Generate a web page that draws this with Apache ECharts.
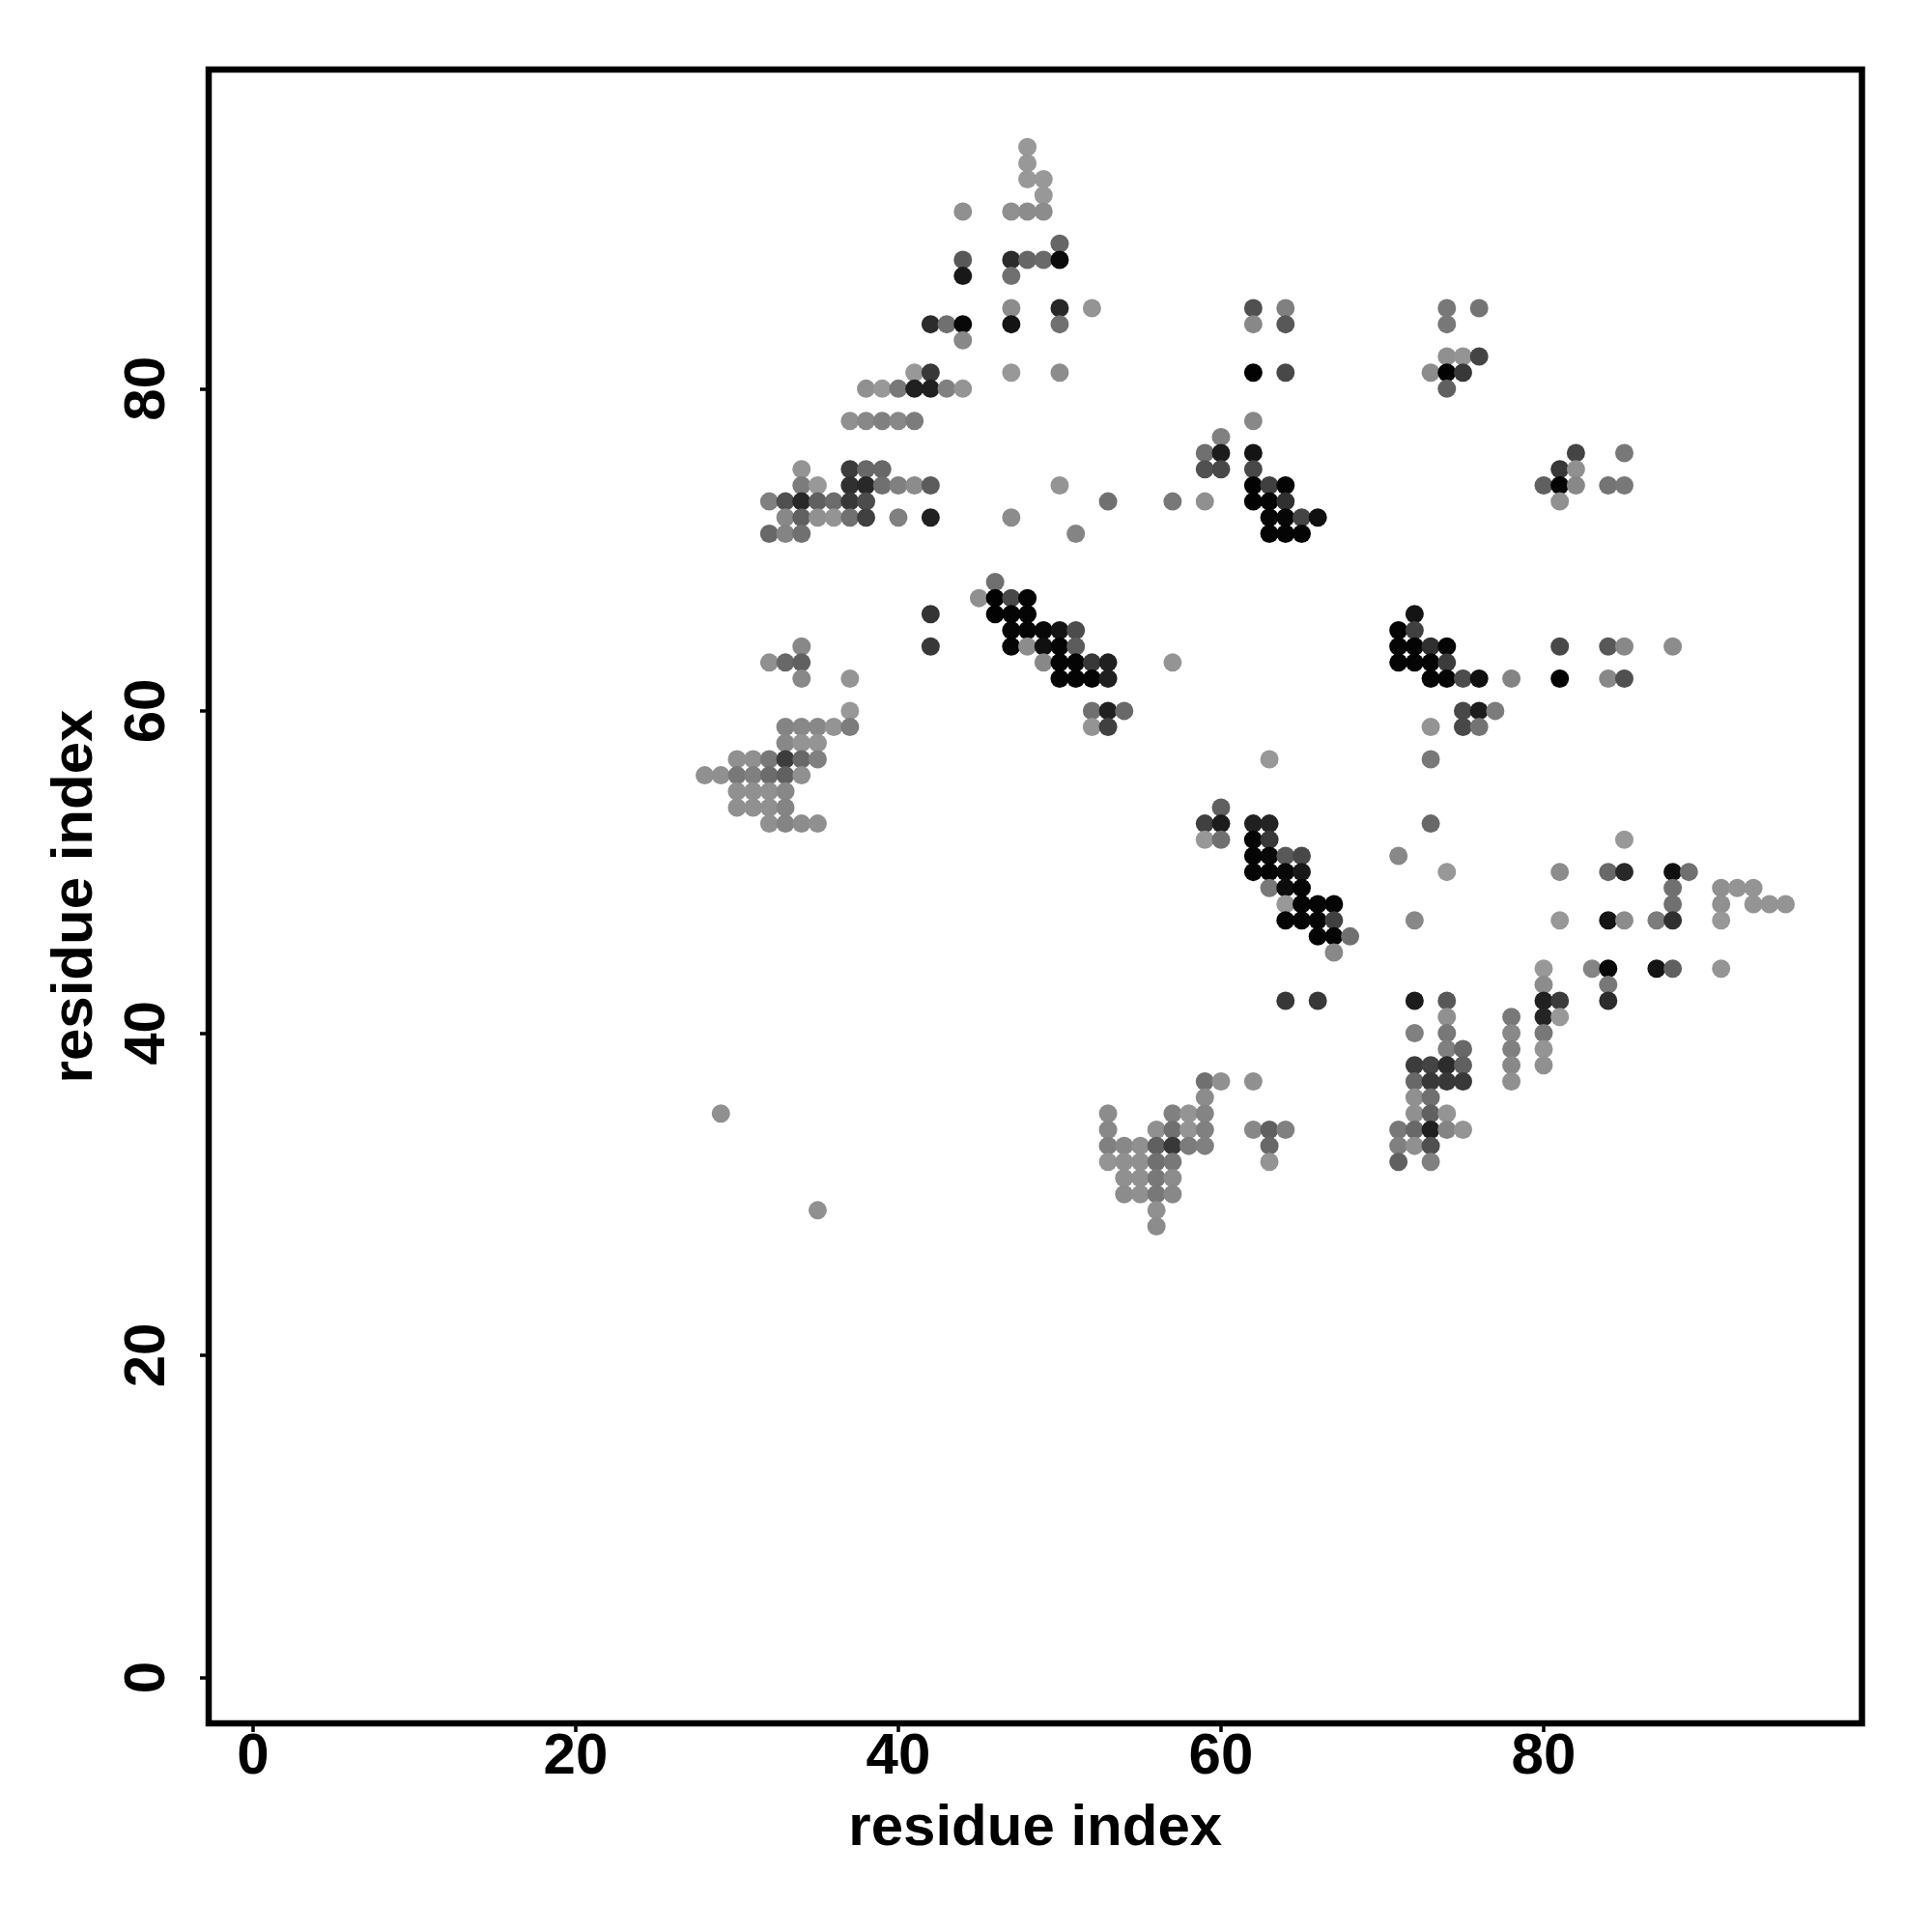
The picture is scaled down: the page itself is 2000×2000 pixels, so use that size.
<!DOCTYPE html>
<html><head><meta charset="utf-8">
<style>html,body{margin:0;padding:0;background:#fff}#c{width:2000px;height:2000px}</style>
<script src="https://cdn.jsdelivr.net/npm/echarts@6/dist/echarts.min.js"></script>
</head><body><div id="c"></div>
<script>
const axisTitle = 'residue index';
const tickValues = [0, 20, 40, 60, 80];
const rowY = [95,94,93,92,91,89,88,87,85,84,83,82,81,80,78,77,76,75,74,73,72,71,68,67,66,65,64,63,62,60,59,58,57,56,55,54,53,52,51,50,49,48,47,46,45,44,43,42,41,40,39,38,37,36,35,34,33,32,31,30,29,28];
const rowX = [
[48],[48],[48,49],[49],[44,47,48,49],[50],[44,47,48,49,50],[44,47],
[47,50,52,62,64,74,76],[42,43,44,47,50,62,64,74],[44],[74,75,76],
[41,42,47,50,62,64,73,74,75],[38,39,40,41,42,43,44,74],[37,38,39,40,41,62],[60],[59,60,62,82,85],
[34,37,38,39,59,60,62,81,82],
[34,35,37,38,39,40,41,42,50,62,63,64,80,81,82,84,85],
[32,33,34,35,36,37,38,53,57,59,62,63,64,81],
[33,34,35,36,37,38,40,42,47,63,64,65,66],
[32,33,34,51,63,64,65],[46],[45,46,47,48],[42,46,47,48,72],[47,48,49,50,51,71,72],
[34,42,47,48,49,50,51,71,72,73,74,81,84,85,88],
[32,33,34,49,50,51,52,53,57,71,72,73,74],
[34,37,50,51,52,53,73,74,75,76,78,81,84,85],
[37,52,53,54,75,76,77],[33,34,35,36,37,52,53,73,75,76],[33,34,35],
[30,31,32,33,34,35,63,73],[28,29,30,31,32,33,34],[30,31,32,33],[30,31,32,33,60],
[32,33,34,35,59,60,62,63,73],[59,60,62,63,85],[62,63,64,65,71],
[62,63,64,65,74,81,84,85,88,89],[63,64,65,88,91,92,93],[64,65,66,67,88,91,93,94,95],
[64,65,66,67,72,81,84,85,87,88,91],[66,67,68],[67],[80,83,84,87,88,91],[80,84],
[64,66,72,74,80,81,84],[74,78,80,81],[72,74,78,80],[74,75,78,80],[72,73,74,75,78,80],
[59,60,62,72,73,74,75,78],[59,72,73],[29,53,57,58,59,72,73,74],
[53,56,57,58,59,62,63,64,71,72,73,74,75],[53,54,55,56,57,58,59,63,71,72,73],
[53,54,55,56,57,63,71,73],[54,55,56,57],[54,55,56,57],[35,56],[56]
];
const rowGrey = [
[0x98],[0x98],[0x98,0x98],[0x98],[0x90,0x90,0x8c,0x8c],[0x66],[0x58,0x2c,0x66,0x6a,0x0a],[0x18,0x70],
[0x8c,0x28,0x94,0x50,0x80,0x78,0x74],[0x2c,0x70,0x08,0x14,0x70,0x88,0x58,0x78],[0x88],[0x90,0x94,0x44],
[0x98,0x38,0x98,0x8c,0x02,0x48,0x8c,0x02,0x38],[0x90,0x98,0x78,0x20,0x20,0x80,0x94,0x60],[0x90,0x88,0x80,0x88,0x7c,0x88],[0x80],[0x70,0x1c,0x14,0x44,0x78],
[0x94,0x3c,0x68,0x68,0x50,0x48,0x48,0x38,0x90],
[0x7c,0x98,0x30,0x28,0x70,0x80,0x8c,0x5c,0x94,0x02,0x40,0x04,0x60,0x04,0x88,0x74,0x78],
[0x80,0x50,0x28,0x60,0x6c,0x38,0x4c,0x70,0x78,0x90,0x02,0x04,0x30,0x90],
[0x88,0x60,0x90,0x94,0x70,0x40,0x80,0x20,0x8c,0x06,0x06,0x44,0x10],
[0x68,0x84,0x70,0x84,0x04,0x04,0x04],[0x70],[0x90,0x02,0x48,0x04],[0x34,0x02,0x04,0x04,0x14],[0x06,0x04,0x08,0x14,0x4c,0x04,0x40],
[0x88,0x38,0x04,0x8c,0x10,0x04,0x5c,0x04,0x04,0x30,0x04,0x48,0x58,0x88,0x8c],
[0x90,0x68,0x60,0x88,0x04,0x04,0x38,0x20,0x94,0x04,0x04,0x04,0x3c],
[0x88,0x94,0x04,0x04,0x04,0x20,0x04,0x04,0x4c,0x10,0x84,0x04,0x88,0x50],
[0x98,0x70,0x20,0x68,0x48,0x1c,0x7c],[0x84,0x88,0x88,0x94,0x7c,0x94,0x40,0x94,0x48,0x74],[0x88,0x94,0x94],
[0x90,0x90,0x78,0x3c,0x68,0x80,0x98,0x78],[0x90,0x90,0x78,0x80,0x6c,0x60,0x90],[0x90,0x90,0x90,0x88],[0x90,0x90,0x90,0x84,0x60],
[0x90,0x84,0x8c,0x90,0x40,0x1c,0x20,0x24,0x68],[0x98,0x70,0x04,0x38,0x98],[0x04,0x08,0x58,0x48,0x88],
[0x04,0x04,0x08,0x18,0x98,0x8c,0x68,0x28,0x10,0x70],[0x78,0x0c,0x04,0x70,0x90,0x94,0x94],[0x98,0x04,0x04,0x04,0x70,0x90,0x94,0x94,0x94],
[0x04,0x04,0x04,0x40,0x88,0x98,0x14,0x8c,0x7c,0x30,0x98],[0x04,0x04,0x70],[0x88],[0x98,0x84,0x08,0x14,0x60,0x94],[0x8c,0x78],
[0x38,0x38,0x1c,0x58,0x20,0x3c,0x2c],[0x90,0x78,0x24,0x98],[0x80,0x78,0x88,0x78],[0x80,0x68,0x80,0x94],[0x3c,0x44,0x2c,0x60,0x88,0x90],
[0x70,0x90,0x90,0x68,0x38,0x38,0x38,0x90],[0x8c,0x90,0x70],[0x90,0x8c,0x80,0x94,0x84,0x90,0x60,0x94],
[0x88,0x90,0x70,0x94,0x80,0x88,0x60,0x80,0x78,0x68,0x20,0x84,0x94],[0x80,0x88,0x90,0x60,0x38,0x7c,0x80,0x68,0x80,0x90,0x50],
[0x94,0x90,0x90,0x70,0x78,0x94,0x60,0x80],[0x90,0x90,0x78,0x8c],[0x8c,0x90,0x78,0x88],[0x90,0x90],[0x8c]
];

const points = [];
rowY.forEach((y, r) => rowX[r].forEach((x, k) => {
  const g = rowGrey[r][k];
  points.push({ value: [x, y], itemStyle: { color: `rgb(${g},${g},${g})`, opacity: 1 } });
}));

const font = '"Liberation Sans", Arial, sans-serif';
const axisBase = {
  type: 'value', min: -2.75, max: 99.73,
  name: axisTitle, nameLocation: 'middle',
  nameTextStyle: { fontFamily: font, fontWeight: 'bold', fontSize: 60, color: '#000' },
  axisLine: { show: false, onZero: false },
  axisTick: { show: true, length: 9, customValues: tickValues, lineStyle: { color: '#000', width: 3.5 } },
  splitLine: { show: false }
};
const labelBase = { customValues: tickValues, fontFamily: font, fontWeight: 'bold', fontSize: 60, color: '#000', hideOverlap: false, showMinLabel: true, showMaxLabel: true };

const chart = echarts.init(document.getElementById('c'), null, { renderer: 'canvas' });
chart.setOption({
  animation: false,
  backgroundColor: '#fff',
  grid: { left: 216, top: 72, width: 1711.5, height: 1712, show: true, borderColor: '#000', borderWidth: 6.5, backgroundColor: 'transparent', containLabel: false },
  xAxis: Object.assign({}, axisBase, {
    nameGap: 79,
    axisLabel: Object.assign({}, labelBase, { margin: 5 })
  }),
  yAxis: Object.assign({}, axisBase, {
    min: -2.85, max: 99.81,
    nameGap: 108,
    nameRotate: 90,
    axisLabel: Object.assign({}, labelBase, { rotate: 90, margin: 33 })
  }),
  series: [{ type: 'scatter', symbol: 'circle', symbolSize: 19, data: points, silent: true, z: 2 }]
});
</script></body></html>
